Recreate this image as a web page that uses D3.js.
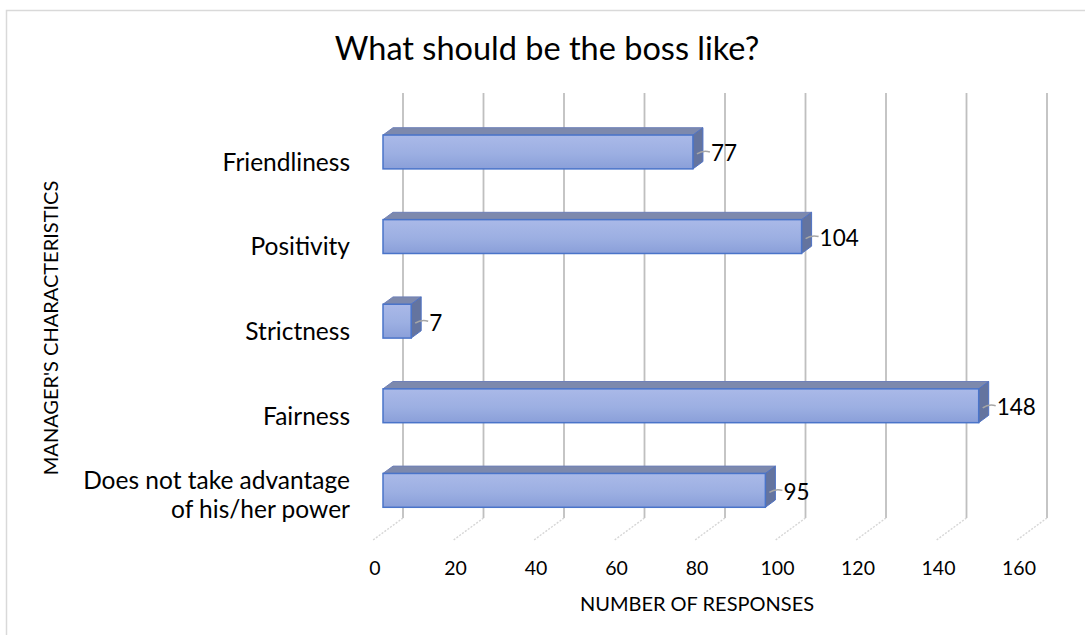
<!DOCTYPE html>
<html>
<head>
<meta charset="utf-8">
<script src="https://cdn.jsdelivr.net/npm/d3@7"></script>
<style>
  html, body { margin: 0; padding: 0; background: #fff; }
  svg { display: block; font-family: Lato, "Open Sans", sans-serif; }
</style>
</head>
<body>
<svg id="chart" width="1085" height="635"></svg>
<script>
// Survey answers: what managers should be like
const categories = ["Friendliness", "Positivity", "Strictness", "Fairness", "Does not take advantage of his/her power"];
const categoryLines = [["Friendliness"], ["Positivity"], ["Strictness"], ["Fairness"], ["Does not take advantage", "of his/her power"]];
const responses = [77, 104, 7, 148, 95];
const xTicks = [0, 20, 40, 60, 80, 100, 120, 140, 160];

const svg = d3.select("#chart");

// Oblique 3-D projection: depth z in [0,1] shifts right and up
const DEPTH_X = 30, DEPTH_Y = -22;
const originX = 373;
const x = d3.scaleLinear().domain([0, 160]).range([originX, originX + 644]);
const y = d3.scaleBand().domain(categories).range([117, 540]).paddingInner(0.6).paddingOuter(0.3);
const floorY = 540;
const px = (v, z) => x(v) + z * DEPTH_X;
const py = (yy, z) => yy + z * DEPTH_Y;

// chart frame
svg.append("rect").attr("x", 6.5).attr("y", 10.5).attr("width", 1100).attr("height", 700)
  .attr("fill", "none").attr("stroke", "#d9d9d9").attr("stroke-width", 1.5);

// title
svg.append("text").attr("x", 547).attr("y", 47).attr("text-anchor", "middle")
  .attr("dominant-baseline", "central").attr("font-size", 32.5).attr("fill", "#000")
  .text("What should be the boss like?");

// back-wall gridlines and floor depth lines
const grid = svg.append("g");
xTicks.forEach(t => {
  grid.append("line")
    .attr("x1", px(t, 1)).attr("x2", px(t, 1))
    .attr("y1", 93).attr("y2", py(floorY, 1))
    .attr("stroke", "#bfbfbf").attr("stroke-width", 1.8);
  grid.append("line")
    .attr("x1", px(t, 1)).attr("y1", py(floorY, 1))
    .attr("x2", px(t, 0)).attr("y2", py(floorY, 0))
    .attr("stroke", "#d6d6d6").attr("stroke-width", 1.4).attr("stroke-dasharray", "2,1.5");
});

// front-face shading
const defs = svg.append("defs");
const grad = defs.append("linearGradient").attr("id", "frontGrad")
  .attr("x1", 0).attr("y1", 0).attr("x2", 0).attr("y2", 1);
grad.append("stop").attr("offset", "0%").attr("stop-color", "#aab9e8");
grad.append("stop").attr("offset", "55%").attr("stop-color", "#9cafe2");
grad.append("stop").attr("offset", "100%").attr("stop-color", "#8a9fd9");

// bars occupy the middle third of the depth
const z0 = 1 / 3, z1 = 2 / 3;
const bars = svg.append("g");
responses.forEach((v, i) => {
  const c = categories[i];
  const top = y(c), bot = y(c) + y.bandwidth();
  const poly = pts => pts.map(p => p.join(",")).join(" ");
  // top face
  bars.append("polygon")
    .attr("points", poly([[px(0, z0), py(top, z0)], [px(v, z0), py(top, z0)], [px(v, z1), py(top, z1)], [px(0, z1), py(top, z1)]]))
    .attr("fill", "#7d89ad").attr("stroke", "#6f80b8").attr("stroke-width", 1).attr("stroke-linejoin", "round");
  // end face
  bars.append("polygon")
    .attr("points", poly([[px(v, z0), py(top, z0)], [px(v, z1), py(top, z1)], [px(v, z1), py(bot, z1)], [px(v, z0), py(bot, z0)]]))
    .attr("fill", "#64749f").attr("stroke", "#4f72c4").attr("stroke-width", 1).attr("stroke-linejoin", "round");
  // front face
  bars.append("rect")
    .attr("x", px(0, z0)).attr("y", py(top, z0))
    .attr("width", px(v, z0) - px(0, z0)).attr("height", bot - top)
    .attr("fill", "url(#frontGrad)").attr("stroke", "#4a74c9").attr("stroke-width", 1.5);

  // value label with leader line
  const ex = px(v, z0), cy = py((top + bot) / 2, z0);
  bars.append("path")
    .attr("d", `M${ex + 4},${cy + 2} Q${ex + 10},${cy - 2} ${ex + 17},${cy}`)
    .attr("fill", "none").attr("stroke", "#a6a6a6").attr("stroke-width", 1.5);
  bars.append("text").attr("x", ex + 18).attr("y", cy + 1)
    .attr("dominant-baseline", "central").attr("font-size", 22.5).attr("fill", "#000")
    .text(v);
});

// category labels (wrapped labels sit a little higher)
const yLabels = svg.append("g");
categoryLines.forEach((lines, i) => {
  const cy = y(categories[i]) + y.bandwidth() / 2 + 2 - (lines.length - 1) * 6;
  const lh = 29;
  const t = yLabels.append("text").attr("text-anchor", "end").attr("font-size", 24.5).attr("fill", "#000");
  lines.forEach((ln, j) => {
    t.append("tspan").attr("x", 350)
      .attr("y", cy + (j - (lines.length - 1) / 2) * lh)
      .attr("dominant-baseline", "central").text(ln);
  });
});

// value axis tick labels
svg.append("g").selectAll("text").data(xTicks).join("text")
  .attr("x", d => px(d, 0) + 2).attr("y", 567)
  .attr("text-anchor", "middle").attr("dominant-baseline", "central")
  .attr("font-size", 19.5).attr("fill", "#000").text(d => d);

// axis titles
svg.append("text").attr("x", 697).attr("y", 603).attr("text-anchor", "middle")
  .attr("dominant-baseline", "central").attr("font-size", 20).attr("fill", "#000")
  .text("NUMBER OF RESPONSES");
svg.append("text").attr("transform", "translate(50,328) rotate(-90)").attr("text-anchor", "middle")
  .attr("dominant-baseline", "central").attr("font-size", 20).attr("fill", "#000")
  .text("MANAGER'S CHARACTERISTICS");
</script>
</body>
</html>
